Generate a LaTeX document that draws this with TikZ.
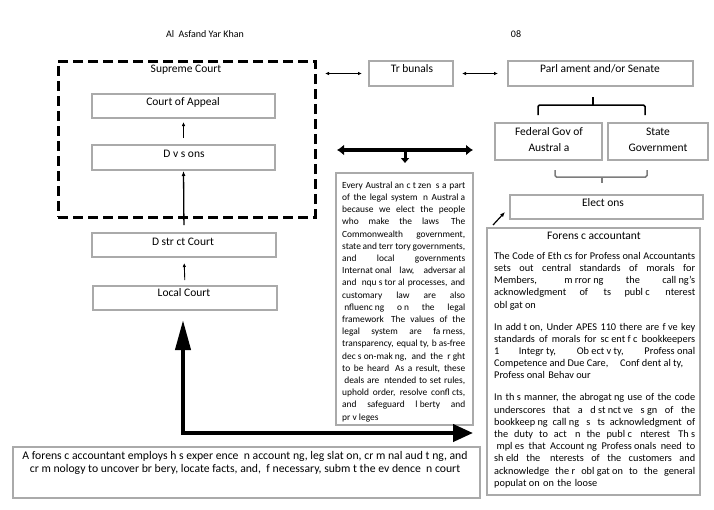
\documentclass[tikz,border=0pt]{standalone}
\usepackage{fontspec}
\setmainfont{Carlito}
\usetikzlibrary{arrows.meta,calc}
\setlength{\parindent}{0pt}
\definecolor{boxgray}{RGB}{170,170,170}
\definecolor{bracegray}{RGB}{125,125,125}
\newcommand\jl[2]{\leavevmode\hbox to #1{\spaceskip=0.226em plus 1fil minus 0.05em\xspaceskip=\spaceskip #2}}
\newcommand\gi{\hspace{0.229em}}
\begin{document}
\begin{tikzpicture}[x=1pt,y=-1pt,
 gbox/.style={draw=boxgray, line width=1.1pt, rectangle, inner sep=0pt, outer sep=0pt, anchor=north west},
 dbox/.style={draw=black, line width=3pt, dash pattern=on 10pt off 5pt, rectangle, inner sep=0pt, outer sep=0pt, anchor=north west},
 ttl/.style={font=\fontsize{11.5}{16}\selectfont, inner sep=0pt, text height=8pt, text depth=2pt, align=center},
 ttl2/.style={font=\fontsize{11.5}{16}\selectfont, inner sep=0pt, align=center},
 hdr/.style={font=\fontsize{10}{12}\selectfont, inner sep=0pt, text height=7pt, text depth=2pt},
 thinarr/.style={draw=black, line width=0.9pt, -{Latex[length=4pt,width=3.5pt]}},
 dblarr/.style={draw=black, line width=0.9pt, {Latex[length=4pt,width=3.5pt]}-{Latex[length=4pt,width=3.5pt]}},
 thickdbl/.style={draw=black, line width=3.5pt, {Latex[length=7pt,width=11pt]}-{Latex[length=7pt,width=11pt]}},
 downarr/.style={draw=black, line width=3pt, -{Triangle[length=5pt,width=8pt]}},
 bigarr/.style={draw=black, line width=4pt, {Triangle[length=30pt,width=15pt]}-{Triangle[length=20pt,width=17pt]}},
 brace/.style={line width=1.5pt, rounded corners=1.5pt},
 body/.style={anchor=north west, inner sep=0pt, align=left}
]
\fill[white] (0,0) rectangle (714,509);
\useasboundingbox (0,0) rectangle (714,509);

% header
\node[hdr] (auth) at (205,35) {Al \ Asfand Yar Khan};
\node[hdr] (pg) at (516,35) {08};

% court hierarchy
\node[dbox, minimum width=257pt, minimum height=156pt] (sc) at (58,61) {};
\node[ttl] (tsc) at (186,69) {Supreme Court};
\node[gbox, minimum width=183pt, minimum height=24pt] (ca) at (92,94) {};
\node[ttl] (tca) at (183,102) {Court of Appeal};
\node[gbox, minimum width=183pt, minimum height=25pt] (dv) at (92,145) {};
\node[ttl] (tdv) at (184,154) {D v s ons};
\node[gbox, minimum width=184pt, minimum height=24pt] (dc) at (92,233) {};
\node[ttl] (tdc) at (183,242) {D str ct Court};
\node[gbox, minimum width=184pt, minimum height=24pt] (lc) at (93,286) {};
\node[ttl] (tlc) at (184,293) {Local Court};

% right column
\node[gbox, minimum width=84pt, minimum height=25pt] (tb) at (369,61) {};
\node[ttl] (ttb) at (412,69) {Tr bunals};
\node[gbox, minimum width=185pt, minimum height=25pt] (pa) at (508,61) {};
\node[ttl] (tpa) at (600,69) {Parl ament and/or Senate};
\node[gbox, minimum width=107pt, minimum height=37pt] (fg) at (495,123) {};
\node[ttl2] (tfg) at (549,140) {Federal Gov of\\Austral a};
\node[gbox, minimum width=100pt, minimum height=37pt] (sg) at (608,123) {};
\node[ttl2] (tsg) at (658,140) {State\\Government};
\node[gbox, minimum width=193pt, minimum height=24pt] (el) at (510,195) {};
\node[ttl] (tel) at (603,203) {Elect ons};

% middle text box
\node[gbox, minimum width=137pt, minimum height=252pt] (ev) at (336,173) {};
\node[body, text width=123pt, font=\fontsize{9.4}{12.2}\selectfont] (evt) at (342,181.5) {%
\jl{123pt}{Every Austral\gi{}an c\gi{}t\gi{}zen \gi{}s a part}\\
\jl{123pt}{of the legal system \gi{}n Austral\gi{}a}\\
\jl{123pt}{because we elect the people}\\
\jl{123pt}{who make the laws\gi{} The}\\
\jl{123pt}{Commonwealth government,}\\
\jl{123pt}{state and terr\gi{}tory governments,}\\
\jl{123pt}{and local governments}\\
\jl{123pt}{Internat\gi{}onal law, adversar\gi{}al}\\
\jl{123pt}{and \gi{}nqu\gi{}s\gi{}tor\gi{}al processes, and}\\
\jl{123pt}{customary law are also}\\
\jl{123pt}{\gi{}nfluenc\gi{}ng o\gi{}n the legal}\\
\jl{123pt}{framework\gi{} The values of the}\\
\jl{123pt}{legal system are fa\gi{}rness,}\\
\jl{123pt}{transparency, equal\gi{}ty, b\gi{}as-free}\\
\jl{123pt}{dec\gi{}s\gi{}on-mak\gi{}ng, and the r\gi{}ght}\\
\jl{123pt}{to be heard\gi{} As a result, these}\\
\jl{123pt}{\gi{}deals are \gi{}ntended to set rules,}\\
\jl{123pt}{uphold order, resolve confl\gi{}cts,}\\
\jl{123pt}{and safeguard l\gi{}berty and}\\
pr\gi{}v\gi{}leges};

% forensic accountant box
\node[gbox, minimum width=213pt, minimum height=267pt] (fa) at (487,228) {};
\node[ttl] (tfa) at (594,236) {Forens c accountant};
\node[body, text width=201pt, font=\fontsize{10.3}{12.2}\selectfont] (fat) at (494,252) {%
\jl{201pt}{The Code of Eth\gi{}cs for Profess\gi{}onal Accountants}\\
\jl{201pt}{sets out central standards of morals for}\\
\jl{201pt}{Members, m\gi{}rror\gi{}ng the call\gi{}ng's}\\
\jl{201pt}{acknowledgment of \gi{}ts publ\gi{}c \gi{}nterest}\\
obl\gi{}gat\gi{}on\\[9.8pt]
\jl{201pt}{In add\gi{}t\gi{}on, Under APES 110 there are f\gi{}ve key}\\
\jl{201pt}{standards of morals for sc\gi{}ent\gi{}f\gi{}c bookkeepers}\\
\jl{201pt}{1\gi{} Integr\gi{}ty, Ob\gi{}ect\gi{}v\gi{}ty, Profess\gi{}onal}\\
\jl{189pt}{Competence and Due Care,\hskip 0pt plus 1fill Conf\gi{}dent\gi{}al\gi{}ty,}\\
Profess\gi{}onal Behav\gi{}our\\[9.8pt]
\jl{201pt}{In th\gi{}s manner, the abrogat\gi{}ng use of the code}\\
\jl{201pt}{underscores that a d\gi{}st\gi{}nct\gi{}ve s\gi{}gn of the}\\
\jl{201pt}{bookkeep\gi{}ng call\gi{}ng \gi{}s \gi{}ts acknowledgment of}\\
\jl{201pt}{the duty to act \gi{}n the publ\gi{}c \gi{}nterest\gi{} Th\gi{}s}\\
\jl{201pt}{\gi{}mpl\gi{}es that Account\gi{}ng Profess\gi{}onals need to}\\
\jl{201pt}{sh\gi{}eld the \gi{}nterests of the customers and}\\
\jl{201pt}{acknowledge the\gi{}r obl\gi{}gat\gi{}on to the general}\\
populat\gi{}on on the loose};

% bottom box
\node[gbox, minimum width=467pt, minimum height=51pt] (bt) at (13,447) {};
\node[anchor=north, inner sep=0pt, align=center, font=\fontsize{11.7}{13.6}\selectfont] (btt) at (245,451) {A forens\gi{}c accountant employs h\gi{}s exper\gi{}ence \gi{}n account\gi{}ng, leg\gi{}slat\gi{}on, cr\gi{}m\gi{}nal aud\gi{}t\gi{}ng, and\\cr\gi{}m\gi{}nology to uncover br\gi{}bery, locate facts, and, \gi{}f necessary, subm\gi{}t the ev\gi{}dence \gi{}n court};

% connectors in court column
\draw[thinarr, shorten <=7pt, shorten >=4pt] (dv.north) -- (ca.south);
\draw[draw=black, line width=1.3pt, -{Latex[length=5pt,width=4pt]}, shorten <=8pt, shorten >=1pt] (dc.north) -- (dv.south);
\draw[thinarr, shorten <=6pt, shorten >=6pt] (lc.north) -- (dc.south);

% top double arrows
\draw[dblarr, shorten <=10pt, shorten >=7pt] (tb.west -| sc.east) -- (tb.west);
\draw[dblarr, shorten <=9pt, shorten >=10pt] (tb.east) -- (pa.west);

% braces
\draw[brace, black] (538,115) -- (538,105) -- (645,105) -- (645,115);
\draw[line width=1.5pt, black] (593,97) -- (593,105);
\draw[brace, bracegray] (555,170) -- (555,177) -- (647,177) -- (647,170);
\draw[line width=1.5pt, bracegray] (602,177) -- (602,183);

% thick double arrow over middle box
\coordinate (ha) at (337,150);
\coordinate (hb) at (473,150);
\coordinate (hm) at (405,149);
\draw[thickdbl] (ha) -- (hb);
\draw[downarr, shorten >=10pt] (hm) -- (hm |- ev.north);

% diagonal arrow to elections
\draw[draw=black, line width=1.2pt, -{Latex[length=5pt,width=4pt]}] ($(fa.north west)+(6,-3)$) -- ($(el.south west)+(-5,-7)$);

% big L arrow
\coordinate (corner) at (183,433);
\draw[bigarr, shorten <=10pt, shorten >=14pt] (corner |- lc.south) -- (corner) -- (corner -| fa.west);
\end{tikzpicture}
\end{document}
